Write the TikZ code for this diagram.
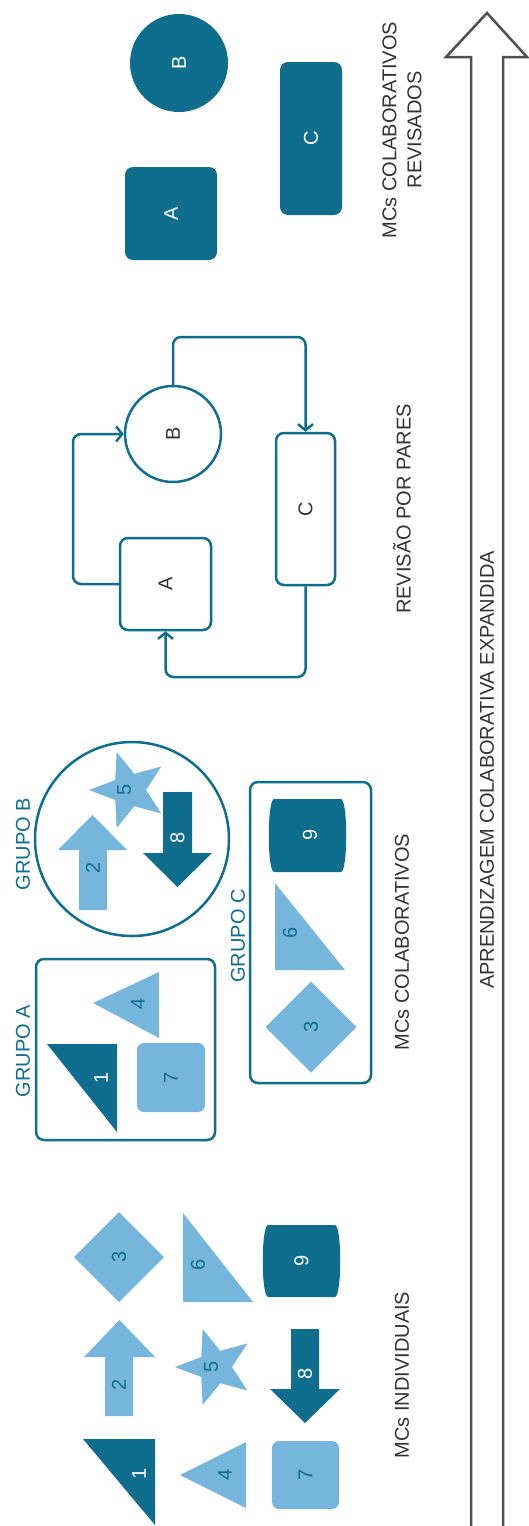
\documentclass[tikz,border=0pt]{standalone}
\usepackage{fontspec}
\setmainfont{Liberation Sans}
\usetikzlibrary{arrows.meta}
\definecolor{dk}{HTML}{0F6E8E}
\definecolor{lt}{HTML}{76B5DC}
\definecolor{txt}{HTML}{333333}
\definecolor{arw}{HTML}{505050}
\newcommand\canshape[4]{%
  \fill[dk] (#1+6,#2) -- (#3-6,#2) .. controls (#3+1,#2+1) and (#3+1,#4-1) .. (#3-6,#4)
    -- (#1+6,#4) .. controls (#1-1,#4-1) and (#1-1,#2+1) .. (#1+6,#2) -- cycle;}
\newcommand\starshape[3]{%
  \fill[#3] (#1,#2) +(180:40) -- +(216:17) -- +(252:40) -- +(288:17) -- +(324:40)
    -- +(0:17) -- +(36:40) -- +(72:17) -- +(108:40) -- +(144:17) -- cycle;}
\begin{document}
\begin{tikzpicture}[x=1pt,y=-1pt,
  lbl/.style={rotate=90,font=\fontsize{20}{22}\selectfont,inner sep=0pt},
  dlbl/.style={lbl,text=white},
  llbl/.style={lbl,text=dk},
  title/.style={rotate=90,font=\fontsize{20}{25}\selectfont,text=txt,align=center,inner sep=0pt},
  grp/.style={rotate=90,font=\fontsize{20}{24}\selectfont,text=dk,inner sep=0pt},
  frame/.style={draw=dk,line width=2.5pt,rounded corners=8pt,inner sep=0pt},
  ring/.style={circle,draw=dk,line width=2.5pt,inner sep=0pt},
  solid box/.style={fill=dk,rounded corners=8pt,inner sep=0pt},
  conn/.style={draw=dk,line width=2.5pt,rounded corners=8pt,-{Straight Barb[length=6pt,width=15pt]}},
]
\useasboundingbox (0,0) rectangle (528,1526);

% ---------- big arrow ----------
\draw[arw,line width=2.5pt,line join=miter] (471,1530) -- (471,57) -- (446,57) -- (487,13) -- (527,57) -- (503,57) -- (503,1530);
\node[title] (tAP) at (487,770) {APRENDIZAGEM COLABORATIVA EXPANDIDA};

% ---------- MCs individuais ----------
\fill[dk] (83,1439) -- (155,1439) -- (155,1525) -- cycle;
\node[dlbl] (i1) at (139,1474) {1};
\fill[lt] (105,1416) -- (105,1357) -- (84,1357) -- (119.5,1320) -- (155,1357) -- (133,1357) -- (133,1416) -- cycle;
\node[llbl] (i2) at (119,1385) {2};
\fill[lt] (119,1212) -- (164,1257) -- (119,1302) -- (74,1257) -- cycle;
\node[llbl] (i3) at (119,1257) {3};
\fill[lt] (180,1475) -- (246,1442) -- (246,1508) -- cycle;
\node[llbl] (i4) at (225,1475) {4};
\starshape{215}{1367}{lt}
\node[llbl] (i5) at (211,1367) {5};
\fill[lt] (183,1213) -- (183,1302) -- (253,1302) -- cycle;
\node[llbl] (i6) at (198,1265) {6};
\fill[lt,rounded corners=7pt] (272,1441) rectangle (339,1509);
\node[llbl] (i7) at (305.5,1475) {7};
\fill[dk] (291,1329) -- (291,1389) -- (270,1389) -- (305,1423) -- (340,1389) -- (319,1389) -- (319,1329) -- cycle;
\node[dlbl] (i8) at (305,1374) {8};
\canshape{262}{1225}{341}{1297}
\node[dlbl] (i9) at (301.5,1261) {9};
\node[title] (tIND) at (402,1375) {MCs INDIVIDUAIS};

% ---------- MCs colaborativos ----------
\node[frame,minimum width=179pt,minimum height=181pt] (GA) at (125.5,1049.5) {};
\node[grp] (tGA) at (23,1051) {GRUPO A};
\fill[dk] (47,1044) -- (117,1044) -- (117,1132) -- cycle;
\node[dlbl] (a1) at (101,1078) {1};
\fill[lt] (93,1003) -- (159,972) -- (159,1038) -- cycle;
\node[llbl] (a4) at (138,1004) {4};
\fill[lt,rounded corners=7pt] (137,1043) rectangle (205,1112);
\node[llbl] (a7) at (171,1078) {7};

\node[ring,minimum size=194pt] (GB) at (132,839) {};
\node[grp] (tGB) at (23,844) {GRUPO B};
\fill[lt] (79,910) -- (79,850) -- (58,850) -- (92.5,815) -- (127,850) -- (107,850) -- (107,910) -- cycle;
\node[llbl] (b2) at (93,868) {2};
\starshape{129}{790}{lt}
\node[llbl] (b5) at (124,790) {5};
\fill[dk] (163,792) -- (163,853) -- (143,853) -- (177.5,887) -- (212,853) -- (192,853) -- (192,792) -- cycle;
\node[dlbl] (b8) at (177.5,838) {8};

\node[frame,minimum width=121pt,minimum height=301pt] (GC) at (310.5,932.5) {};
\node[grp] (tGC) at (238,936) {GRUPO C};
\canshape{268}{799}{347}{872}
\node[dlbl] (c9) at (310,835) {9};
\fill[lt] (275,883) -- (275,970) -- (345,970) -- cycle;
\node[llbl] (c6) at (290,933) {6};
\fill[lt] (311,981.5) -- (356.5,1027) -- (311,1072.5) -- (265.5,1027) -- cycle;
\node[llbl] (c3) at (311,1027) {3};
\node[title] (tCOL) at (402,942) {MCs COLABORATIVOS};

% ---------- revisao por pares ----------
\node[frame,fill=white,minimum width=91pt,minimum height=92pt] (A) at (165.5,584) {};
\node[lbl,text=txt] (Al) at (A) {A};
\node[ring,minimum size=96pt] (B) at (173,434) {};
\node[lbl,text=txt] (Bl) at (B) {B};
\node[frame,minimum width=59pt,minimum height=152pt] (C) at (305.5,509) {};
\node[lbl,text=txt] (Cl) at (C) {C};
\coordinate (t1) at (0,337);
\coordinate (t2) at (0,677);
\coordinate (t3) at (73,0);
\draw[conn] (A.west) -- (A.west -| t3) |- (B.west);
\draw[conn] (B.north) -- (B.north |- t1) -| (C.north);
\draw[conn] (C.south) -- (C.south |- t2) -| (A.south);
\node[title] (tREV) at (402,509) {REVISÃO POR PARES};

% ---------- revisados ----------
\node[solid box,minimum width=92pt,minimum height=93pt] (RA) at (171,213.5) {};
\node[dlbl] (RAl) at (RA) {A};
\node[circle,fill=dk,inner sep=0pt,minimum size=98pt] (RB) at (179,63) {};
\node[dlbl] (RBl) at (RB) {B};
\node[solid box,minimum width=62pt,minimum height=153pt] (RC) at (311,138.5) {};
\node[dlbl] (RCl) at (RC) {C};
\node[title] (tRV) at (402,130) {MCs COLABORATIVOS\\REVISADOS};
\end{tikzpicture}
\end{document}
